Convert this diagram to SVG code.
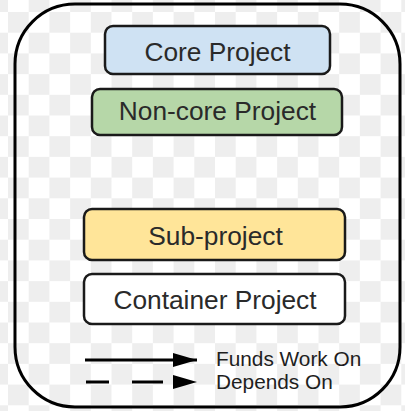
<svg xmlns="http://www.w3.org/2000/svg" width="405" height="411" viewBox="0 0 405 411">
  <defs>
    <pattern id="checker" x="8" y="12" width="41.4" height="41.4" patternUnits="userSpaceOnUse">
      <rect x="0" y="0" width="41.4" height="41.4" fill="#ffffff"/>
      <rect x="0" y="0" width="20.7" height="20.7" fill="#eeeeee"/>
      <rect x="20.7" y="20.7" width="20.7" height="20.7" fill="#eeeeee"/>
    </pattern>
    <marker id="arrow" viewBox="0 0 24 14" refX="24" refY="7" markerWidth="24" markerHeight="14" markerUnits="userSpaceOnUse" orient="auto">
      <path d="M0,0 L24,7 L0,14 Z" fill="#000000"/>
    </marker>
  </defs>
  <style>
    .node rect { stroke: #1a1a1a; stroke-width: 2.5; }
    .label { font-family: "Liberation Sans", Arial, sans-serif; font-size: 26.3px; fill: #2a2a2a; text-anchor: middle; }
    .legend { font-family: "Liberation Sans", Arial, sans-serif; font-size: 20.8px; fill: #1e1e1e; }
    .edge { stroke: #000000; stroke-width: 3; fill: none; }
  </style>
  <rect x="0" y="0" width="405" height="411" fill="url(#checker)"/>
  <g id="frame">
    <rect x="15" y="4" width="385" height="403" rx="60" ry="60" fill="none" stroke="#000000" stroke-width="3"/>
  </g>
  <g id="core" class="node">
    <rect x="105" y="26" width="225" height="48" rx="8" fill="#cfe2f3"/>
    <text class="label" x="217.5" y="60.5">Core Project</text>
  </g>
  <g id="noncore" class="node">
    <rect x="92" y="89" width="250" height="46" rx="8" fill="#b6d7a8"/>
    <text class="label" x="217.5" y="120">Non-core Project</text>
  </g>
  <g id="subproject" class="node">
    <rect x="84" y="209" width="261" height="51" rx="8" fill="#ffe599"/>
    <text class="label" x="215.5" y="244.5">Sub-project</text>
  </g>
  <g id="container" class="node">
    <rect x="84" y="274" width="261" height="50" rx="8" fill="#ffffff"/>
    <text class="label" x="215" y="308.5">Container Project</text>
  </g>
  <g id="connectors">
    <line class="edge" x1="85" y1="360" x2="197" y2="360" marker-end="url(#arrow)"/>
    <line class="edge" x1="86" y1="382" x2="197" y2="382" stroke-dasharray="23,23,31,100" marker-end="url(#arrow)"/>
  </g>
  <g id="legend-labels">
    <text class="legend" x="216" y="366">Funds Work On</text>
    <text class="legend" x="216" y="389">Depends On</text>
  </g>
</svg>
